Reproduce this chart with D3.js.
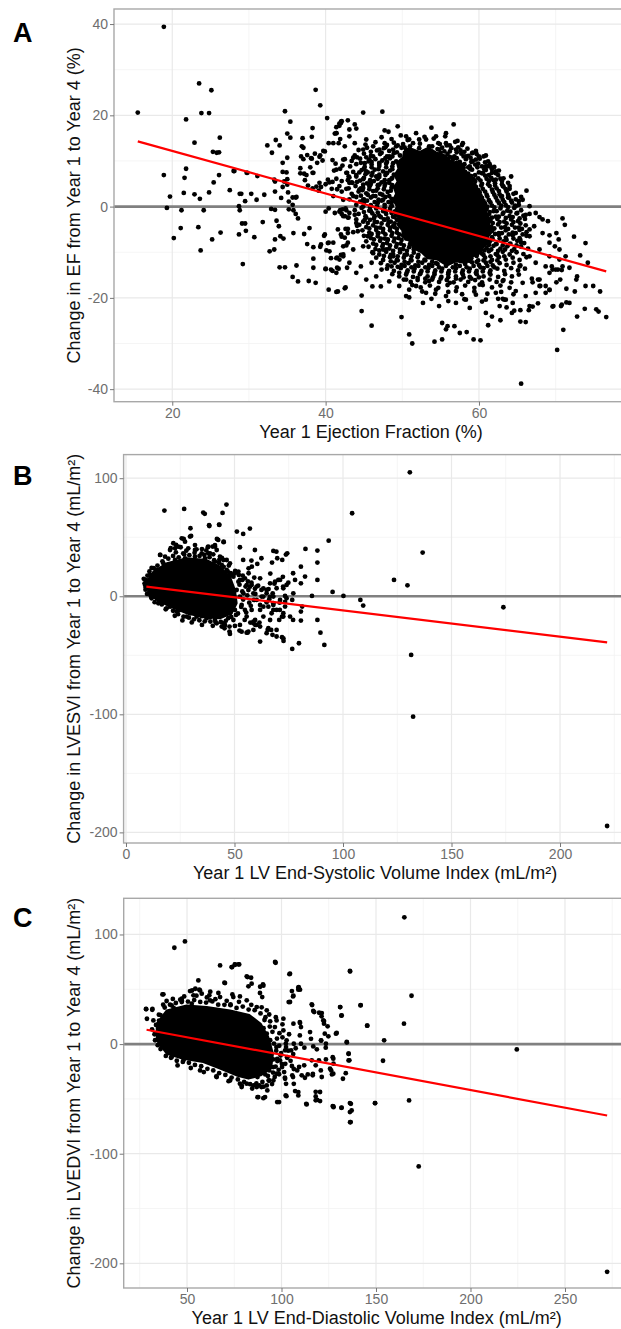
<!DOCTYPE html>
<html>
<head>
<meta charset="utf-8">
<script src="https://cdn.jsdelivr.net/npm/d3@7"></script>
<style>
  body { margin: 0; background: #fff; }
  svg { display: block; font-family: "Liberation Sans", Arial, sans-serif; }
</style>
</head>
<body>
<svg id="chart" width="621" height="1329"></svg>
<script>
// ---- panel A : ejection fraction ----
const efXTicks = [20, 40, 60];
const efYTicks = [-40, -20, 0, 20, 40];
const efFit = [[15.5, 14.3], [76.6, -14.2]];
// saturated centre of the cloud (outline of the solid black area)
const efCore = [[51,12.8],[52.3,12.0],[53.4,12.9],[54.5,11.8],[55.6,11.2],[56.3,10.0],[57.4,9.4],[58.1,8.0],[58.6,7.1],[59.2,5.8],[59.1,4.6],[59.8,3.6],[60.2,2.0],[60.6,1.0],[61.1,-0.4],[60.9,-1.6],[61.5,-2.8],[61.3,-4.1],[61.8,-5.3],[61.2,-6.6],[61.3,-7.9],[60.5,-9.0],[60.2,-10.2],[59.1,-11.0],[58.3,-12.4],[57.0,-12.0],[55.8,-12.9],[54.6,-11.6],[53.3,-11.3],[52.5,-10.0],[51.4,-9.1],[51.0,-7.6],[50.1,-6.7],[50.0,-5.2],[49.4,-4.0],[49.6,-2.6],[48.9,-1.4],[49.3,0.0],[48.8,1.5],[49.2,2.8],[48.9,4.2],[49.4,5.5],[49.0,6.9],[49.5,8.3],[49.3,9.6],[50.1,10.8],[50.2,12.0]];
const efPoints = [
  [15.5,20.6],[18.9,39.4],[23.5,27.0],[25.1,25.5],[23.8,20.5],[24.8,20.5],[21.8,19.1],[22.9,14.0],[26.2,15.1],[18.9,6.9],[21.8,8.3],[21.6,6.3],[25.3,12.0],[25.8,11.8],[26.1,11.9],[26.1,6.9],[25.4,5.3],[19.7,2.2],[21.5,3.0],[22.9,2.7],[23.6,1.7],[24.8,3.1],[19.3,-0.3],[21.2,-0.8],[24.1,-0.8],[27.5,3.6],[28.1,7.8],[28.8,2.8],[29.5,1.2],[29.8,7.4],[30.3,2.8],[31.1,6.7],[31.0,1.5],[32.0,2.6],[28.8,-0.8],[32.4,13.4],[33.0,11.8],[33.5,14.6],[34.0,13.4],[33.4,5.5],[33.4,3.3],[34.7,20.9],[35.4,18.6],[35.0,16.0],[35.4,15.1],[34.4,9.6],[35.0,10.7],[34.4,7.6],[34.9,7.5],[35.0,6.0],[35.0,4.8],[34.4,4.3],[34.2,1.9],[35.1,3.1],[36.1,2.0],[37.0,15.0],[36.9,13.2],[36.8,11.0],[37.1,10.4],[36.7,8.4],[37.2,7.2],[38.2,15.3],[38.3,17.2],[38.1,10.6],[38.0,8.6],[38.4,7.4],[38.7,25.6],[39.3,22.2],[40.2,19.4],[39.3,11.2],[39.6,10.1],[39.9,12.1],[40.4,13.9],[41.2,16.0],[41.4,17.4],[41.8,17.7],[42.0,18.6],
  [20.2,-6.9],[21.1,-4.7],[23.4,-4.5],[23.7,-9.6],[25.2,-7.2],[26.3,-5.7],[28.7,-6.1],[29.1,-3.7],[29.5,-3.7],[29.6,-5.3],[29.2,-12.6],[30.7,-6.7],[31.8,-3.4],[32.9,-0.5],[33.4,-0.7],[33.6,-3.1],[33.9,-4.3],[32.7,-9.8],[33.3,-9.4],[33.4,-7.2],[34.1,-6.5],[34.5,-7.0],[34.0,-13.3],[34.7,-13.3],[35.8,-5.8],[35.2,-0.6],[35.8,-0.8],[36.1,-1.6],[36.4,-2.6],[35.7,-15.4],[36.4,-16.4],[36.2,-12.9],[37.2,-6.0],[37.6,-8.2],[37.9,-4.7],[37.8,-16.3],[38.7,-16.7],[38.4,-11.4],[38.4,-13.4],[38.4,-8.9],[39.3,-8.8],[39.4,-8.3],[39.8,-6.4],[40.3,-8.0],[40.5,-9.8],[40.0,-13.7],[40.9,-14.1],[41.5,-13.4],[42.3,-10.9],[41.5,-11.2],[42.8,-13.4],[40.4,-18.2],[41.6,-18.6],[42.6,-17.7],[42.6,-4.9],[42.5,-6.8],[42.9,-7.9],[41.9,-0.8],[42.1,-1.6],[42.9,-2.4],[42.7,-0.8],[44.0,-3.6],
  [37.1,12.9],[37.6,11.3],[38.2,10.5],[38.6,11.6],[28.0,7.8],[29.7,7.4],[29.0,2.8],[33.3,5.9],[34.6,5.5],[35.7,2.0],[36.2,2.1],[35.2,1.1],[35.7,0.4],[28.7,0.1],[36.7,7.3],[37.5,6.9],[38.3,7.4],
  [39.9,-6.1],[40.4,-7.9],[40.1,-9.6],[40.0,-13.6],[40.7,-11.3],[41.4,-11.3],[42.3,-10.5],[41.7,-13.6],[42.7,-8.5],[41.8,18.2],[42.1,18.7],[41.4,16.1],[41.9,14.8],[41.7,13.9],
  [39.7,12.2],[39.2,10.9],[38.9,9.6],[40.9,10.2],[41.3,9.4],[41.1,7.9],[41.9,8.3],[42.2,9.0],[42.8,7.4],[42.5,10.4],[43.0,6.6],[44.1,10.8],[44.4,7.5],[40.3,5.9],[40.9,5.4],[41.4,6.1],[42.1,5.6],[42.9,5.8],[43.4,5.3],[44.1,5.4],[44.6,4.0],[39.1,3.5],[39.4,4.3],[40.0,4.9],[40.5,5.3],[40.8,3.9],[41.5,3.8],[42.1,3.3],[42.7,3.9],[37.3,5.8],[37.7,4.6],[38.3,4.0],[38.8,4.4],[39.2,5.2],
  [40.0,-1.1],[40.4,-0.4],[41.8,-1.1],[42.2,-0.6],[42.6,-0.4],[43.1,-1.4],[43.0,-2.4],[42.3,-2.1],[42.0,-6.1],[42.1,-6.6],[42.9,-4.9],[43.6,-5.6],[44.1,-4.2],
  [44.9,20.6],[47.4,20.8],[53.8,17.3],[56.7,18.0],[57.2,14.4],[47.7,16.7],[48.2,16.4],[49.4,17.6],[43.8,18.0],[44.0,17.1],[42.9,18.9],[43.1,16.9],[50.9,14.7],[52.2,14.7],[52.3,13.8],[54.9,13.7],[60.9,11.2],[61.1,8.8],[61.7,8.2],[66.2,3.5],[65.5,2.1],[65.2,1.2],[63.8,2.0],[63.0,2.3],
  [67.9,-2.3],[69.0,-3.2],[70.9,-2.6],[71.2,-4.0],[72.4,-6.6],[73.9,-8.0],[70.1,-5.8],[69.9,-8.7],[69.2,-6.3],[70.4,-7.2],
  [73.2,-10.7],[74.2,-12.3],[75.8,-18.6],[76.6,-24.2],[75.3,-22.5],[75.6,-23.0],[72.8,-24.1],[73.8,-22.4],[72.7,-16.0],[72.5,-18.6],[71.4,-18.0],[70.6,-16.0],[70.1,-16.6],[70.8,-13.9],[69.6,-13.8],[69.2,-18.3],[69.6,-21.9],[70.7,-21.8],[71.4,-21.0],[71.0,-27.0],[70.2,-31.4],[65.5,-38.8],
  [65.4,-22.7],[66.5,-22.7],[66.1,-25.3],[65.4,-25.2],[63.1,-20.2],[63.3,-20.4],[62.8,-24.9],[61.7,-24.1],[61.2,-26.0],[64.6,-22.8],[64.3,-23.3],[63.6,-22.1],[67.7,-21.2],[67.0,-21.9],[68.0,-17.4],[67.0,-16.6],
  [59.3,-29.1],[60.2,-29.3],[58.4,-27.5],[57.5,-27.7],[55.7,-26.9],[55.9,-26.2],[55.2,-25.5],[56.8,-26.2],[54.2,-29.6],[55.2,-29.1],[50.9,-28.0],[51.3,-30.0],[49.9,-24.2],[50.5,-19.6],[50.9,-19.9],
  [46.0,-26.1],[44.7,-22.9],[44.7,-19.5],[46.1,-17.5],[47.2,-17.5],[41.4,-18.7],[42.5,-17.9],[40.7,-13.8],[42.0,-10.6],
  [71.8,-21.1],[70.8,-21.5],[69.7,-21.8],[69.2,-18.2],[68.7,-18.9],[67.9,-17.4],[67.7,-16.0],[66.9,-15.8],[69.5,-13.1],[70.3,-13.8],[71.8,-13.4],[72.8,-15.3],[73.9,-17.4],[74.9,-17.4],
  [41.4,16.1],[42.0,18.3],[41.0,13.9],[42.5,13.2],[43.1,15.4],[43.8,13.9],[44.9,12.5],[45.3,14.7],[46.2,13.2],[47.0,12.5],[47.7,13.9],[42.3,10.3],[43.6,10.7],[44.6,9.6],[45.7,10.3],[47.0,9.6],[48.3,11.0],[49.2,13.2],[50.5,12.5],[51.4,13.9],[52.2,12.8],[41.4,8.1],[42.7,7.4],[44.0,6.6],[45.3,7.7],[46.6,6.6],[47.9,7.4],[41.8,4.5],[43.1,5.2],[44.4,3.7],[45.7,4.5],[47.0,4.8],[48.3,5.2],[41.0,2.3],[42.3,1.5],[43.6,2.3],[44.9,1.5],[46.2,2.3],[47.5,1.5],[48.6,0.1],
  [41.2,-1.4],[42.5,-2.1],[43.8,-1.8],[45.1,-2.9],[46.4,-2.1],[47.7,-2.9],[48.8,-4.3],[41.6,-5.0],[42.9,-5.8],[44.2,-5.4],[45.5,-6.5],[46.8,-5.8],[48.1,-7.2],[41.0,-7.9],[42.3,-8.7],[43.6,-9.4],[44.9,-8.7],[46.2,-10.2],[47.5,-9.4],[48.8,-10.9],[41.8,-11.6],[43.1,-12.3],[44.6,-13.1],[46.0,-12.3],[47.3,-13.8],[48.6,-13.1],[49.6,-14.5],[41.4,-14.5],[44.0,-14.5],[45.3,-16.0],[46.6,-15.3],[48.3,-16.4],[49.6,-17.4],[50.9,-18.2],[50.5,-16.0],
  [51.8,-17.4],[53.1,-18.9],[54.4,-18.2],[55.7,-19.6],[57.0,-18.5],[58.3,-20.4],[59.6,-19.3],[60.9,-20.4],[62.2,-18.9],[63.5,-20.4],[64.8,-18.5],[66.1,-19.6],[67.4,-18.9],[52.7,-21.1],[54.8,-21.8],[57.0,-21.1],[58.8,-22.2],[60.9,-23.3],[62.7,-21.8],[64.4,-21.1],[66.6,-21.8],[53.5,-16.3],[56.2,-16.7],[60.1,-17.1],[63.1,-16.3],[65.7,-16.7],[67.9,-16.0],[69.2,-14.5],[68.7,-17.4],
  [64.0,4.5],[64.8,3.0],[65.7,1.5],[66.6,0.1],[67.4,-1.4],[68.3,-2.8],[64.8,0.1],[66.1,-1.8],[67.2,-4.3],[68.3,-5.8],[69.2,-7.9],[66.6,-6.5],[67.9,-9.4],[69.2,-10.9],[70.5,-11.6],[67.4,-12.3],[68.7,-13.1],[70.0,-13.8],[70.9,-13.1],[71.3,-10.9],[70.5,-9.4],[64.2,6.6],[63.1,4.5],[62.2,5.9],[66.6,-5.0],[65.5,-7.9],[66.6,-10.9],[65.3,-13.1],
  [50.5,15.4],[51.8,16.1],[53.1,14.7],[54.4,15.4],[55.7,13.9],[57.0,12.5],[58.3,11.0],[59.6,10.3],[60.9,8.8],[62.2,7.7],[52.7,11.8],[54.8,12.5],[56.6,10.7],[58.8,8.8],[60.5,7.4],[50.9,10.3],[53.5,13.2],[55.7,16.1],[57.9,13.9],[59.2,11.8]
];
// densely packed points around the saturated centre
const efDense = [
  [47.3,15.2],[48.6,14.8],[49.8,15.6],[50.7,14.6],[52.9,15.3],[54.1,14.9],[55.6,15.4],
  [45.2,13.6],[46.5,14.1],[48.0,13.5],[48.9,14.0],[50.1,13.7],[51.0,13.2],[54.7,13.9],[55.8,13.4],[56.9,14.2],[57.8,13.5],
  [44.3,12.4],[45.4,12.9],[46.7,12.3],[47.6,12.8],[48.8,12.5],[49.9,12.9],[50.6,12.2],[54.6,12.6],[55.5,12.1],[56.4,12.8],[57.6,12.3],[58.5,12.7],[59.6,12.2],
  [43.8,11.2],[45.0,11.6],[45.9,11.1],[47.1,11.5],[48.0,11.0],[48.9,11.7],[49.7,11.2],[55.9,11.5],[56.8,11.0],[57.7,11.6],[58.6,11.1],[59.7,11.5],[60.6,11.0],
  [43.4,10.0],[44.5,10.5],[45.6,9.9],[46.5,10.4],[47.4,10.1],[48.4,10.6],[49.2,9.9],[56.6,10.3],[57.5,9.8],[58.3,10.4],[59.2,10.0],[60.1,10.5],[61.2,9.9],
  [43.2,8.8],[44.0,9.3],[45.1,8.7],[46.0,9.2],[47.0,8.9],[47.9,9.4],[48.7,8.8],[57.7,9.1],[58.6,8.6],[59.5,9.2],[60.4,8.8],[61.4,9.3],[62.0,8.7],
  [43.6,7.6],[44.7,8.0],[45.5,7.5],[46.4,8.1],[47.5,7.7],[48.4,7.9],[58.2,7.6],[59.1,8.1],[60.0,7.5],[60.9,8.0],[61.7,7.4],[62.6,7.9],
  [43.1,6.4],[44.0,6.9],[45.0,6.3],[46.0,6.8],[47.0,6.5],[47.8,6.9],[48.7,6.3],[59.0,6.7],[59.9,6.2],[60.8,6.8],[61.6,6.3],[62.5,6.9],[63.2,6.2],
  [43.5,5.2],[44.5,5.7],[45.4,5.1],[46.3,5.6],[47.3,5.3],[48.3,5.8],[59.5,5.5],[60.4,5.0],[61.3,5.6],[62.1,5.1],[63.0,5.6],[63.8,5.2],
  [43.0,4.0],[43.9,4.5],[44.9,4.1],[45.8,4.6],[46.8,4.0],[47.7,4.5],[48.6,4.2],[59.6,4.3],[60.5,3.9],[61.4,4.5],[62.3,4.0],[63.2,4.4],[64.0,3.9],
  [43.4,2.8],[44.3,3.3],[45.3,2.9],[46.2,3.4],[47.1,2.8],[48.1,3.2],[60.1,3.1],[61.0,2.6],[61.8,3.2],[62.7,2.7],[63.6,3.3],[64.5,2.8],
  [43.1,1.6],[44.0,2.1],[45.0,1.6],[45.9,2.0],[46.9,1.5],[47.8,2.1],[48.6,1.7],[60.4,1.9],[61.3,1.4],[62.2,2.0],[63.1,1.5],[63.9,2.0],[64.8,1.6],
  [44.0,0.4],[45.0,0.9],[45.9,0.3],[46.8,0.8],[47.7,0.4],[48.6,0.9],[60.8,0.7],[61.7,0.2],[62.6,0.8],[63.5,0.3],[64.3,0.9],[65.2,0.4],
  [43.8,-0.8],[44.7,-0.3],[45.7,-0.9],[46.6,-0.4],[47.5,-1.0],[48.4,-0.5],[49.0,-1.1],[61.0,-0.5],[61.9,-1.0],[62.8,-0.4],[63.7,-0.9],[64.6,-0.3],[65.5,-0.8],
  [44.3,-1.6],[45.2,-2.1],[46.1,-1.5],[47.0,-2.0],[47.9,-1.6],[48.8,-2.2],[61.3,-1.7],[62.2,-2.2],[63.1,-1.6],[64.0,-2.1],[64.9,-1.5],[65.8,-2.0],[66.6,-1.6],
  [44.0,-2.8],[44.9,-3.3],[45.8,-2.9],[46.7,-3.4],[47.6,-2.8],[48.5,-3.3],[49.3,-2.9],[61.5,-3.1],[62.4,-2.7],[63.3,-3.3],[64.2,-2.8],[65.1,-3.2],[66.0,-2.7],
  [44.4,-4.0],[45.3,-4.5],[46.2,-4.1],[47.1,-4.6],[48.1,-4.0],[49.0,-4.5],[61.6,-4.4],[62.5,-3.9],[63.4,-4.5],[64.3,-4.0],[65.2,-4.6],[66.1,-4.1],
  [44.8,-5.2],[45.7,-5.7],[46.6,-5.1],[47.5,-5.6],[48.4,-5.2],[49.3,-5.7],[61.7,-5.3],[62.6,-5.8],[63.5,-5.2],[64.4,-5.7],[65.3,-5.1],[66.2,-5.6],
  [45.0,-6.4],[45.9,-6.9],[46.8,-6.5],[47.7,-7.0],[48.6,-6.4],[49.5,-6.9],[50.1,-6.3],[61.7,-6.7],[62.6,-6.2],[63.5,-6.8],[64.4,-6.3],[65.3,-6.9],[66.2,-6.4],
  [45.3,-7.6],[46.2,-8.1],[47.1,-7.5],[48.0,-8.0],[48.9,-7.6],[49.8,-8.1],[61.4,-7.7],[62.3,-8.2],[63.2,-7.6],[64.1,-8.1],[65.0,-7.5],[65.9,-8.0],
  [45.6,-8.8],[46.5,-9.3],[47.4,-8.7],[48.3,-9.2],[49.2,-8.8],[50.1,-9.3],[50.9,-8.9],[61.0,-9.1],[61.9,-8.6],[62.8,-9.2],[63.7,-8.7],[64.6,-9.3],[65.5,-8.8],[66.4,-9.2],
  [46.1,-10.0],[47.0,-10.5],[47.9,-9.9],[48.8,-10.4],[49.7,-10.0],[50.6,-10.5],[51.5,-10.1],[60.4,-10.3],[61.3,-9.8],[62.2,-10.4],[63.1,-9.9],[64.0,-10.5],[64.9,-10.0],[65.8,-10.4],
  [46.6,-11.2],[47.5,-11.7],[48.4,-11.1],[49.3,-11.6],[50.2,-11.2],[51.1,-11.7],[52.0,-11.1],[52.9,-11.6],[59.0,-11.3],[59.9,-11.8],[60.8,-11.2],[61.7,-11.7],[62.6,-11.1],[63.5,-11.6],[64.4,-11.2],[65.3,-11.7],[66.2,-11.1],
  [47.2,-12.4],[48.1,-12.9],[49.0,-12.3],[49.9,-12.8],[50.8,-12.4],[51.7,-12.9],[52.6,-12.3],[53.5,-12.8],[54.4,-12.4],[58.2,-12.6],[59.1,-12.2],[60.0,-12.8],[60.9,-12.3],[61.8,-12.9],[62.7,-12.4],[63.6,-12.8],[64.5,-12.3],[65.4,-12.9],
  [48.0,-13.6],[48.9,-14.1],[49.8,-13.5],[50.7,-14.0],[51.6,-13.6],[52.5,-14.1],[53.4,-13.5],[54.3,-14.0],[55.2,-13.6],[56.1,-14.1],[57.0,-13.5],[57.9,-14.0],[58.8,-13.6],[59.7,-14.1],[60.6,-13.5],[61.5,-14.0],[62.4,-13.6],[63.3,-14.1],[64.2,-13.5],[65.1,-14.0],[66.0,-13.6],
  [48.7,-14.8],[49.6,-15.3],[50.5,-14.9],[51.4,-15.4],[52.3,-14.8],[53.3,-15.3],[54.2,-14.9],[55.1,-15.4],[56.0,-14.8],[57.0,-15.3],[57.9,-14.9],[58.8,-15.4],[59.7,-14.8],[60.6,-15.3],[61.5,-14.9],[62.5,-15.4],[63.4,-14.8],[64.3,-15.3],[65.2,-14.9],
  [50.2,-16.0],[51.1,-16.5],[52.0,-16.1],[53.0,-16.6],[53.9,-16.0],[54.8,-16.5],[55.8,-16.1],[56.7,-16.6],[57.6,-16.0],[58.6,-16.5],[59.5,-16.1],[60.4,-16.6],[61.4,-16.0],[62.3,-16.5],[63.2,-16.1],[64.2,-16.6],
  [51.3,-17.2],[52.4,-17.7],[53.6,-17.3],[54.7,-17.8],[55.9,-17.2],[57.1,-17.7],[58.2,-17.3],[59.4,-17.8],[60.5,-17.2],[61.7,-17.7],[62.8,-17.3],[64.0,-17.8],
  [52.6,-18.6],[54.3,-19.1],[56.0,-18.7],[57.8,-19.2],[59.4,-18.6],[61.1,-19.1],[62.9,-18.7],[64.5,-19.2],
  [53.8,-20.2],[56.0,-20.7],[58.1,-20.3],[60.4,-20.8],[62.5,-20.2]
];
// second, offset layer right next to the saturated centre
const efDenseInner = [
  [47.8,13.0],[49.4,13.4],[50.3,13.0],[53.9,13.2],[55.2,12.9],[56.2,13.4],[57.3,13.0],
  [45.9,12.0],[47.3,11.8],[48.3,12.2],[49.3,11.9],[55.0,11.8],[56.2,12.1],[57.1,11.9],[58.1,12.0],[59.1,11.7],
  [45.3,10.8],[46.2,11.0],[47.8,10.6],[48.7,11.0],[56.2,10.9],[57.1,10.6],[58.0,11.0],[58.9,10.7],[60.0,11.0],
  [45.1,9.5],[46.0,9.8],[47.0,9.4],[48.0,9.8],[48.8,9.5],[57.1,9.6],[58.1,9.3],[59.0,9.8],[59.9,9.4],[60.8,9.7],
  [45.0,8.3],[46.0,8.6],[46.9,8.2],[47.9,8.6],[48.7,8.2],[58.0,8.5],[58.9,8.2],[59.8,8.6],[60.7,8.2],[61.6,8.6],
  [45.2,7.1],[46.1,7.4],[47.0,7.0],[48.0,7.3],[48.9,7.0],[58.6,7.2],[59.5,6.9],[60.4,7.3],[61.3,6.9],[62.2,7.3],
  [44.9,6.0],[45.8,5.8],[46.8,6.1],[47.7,5.8],[48.6,6.1],[59.3,6.0],[60.2,5.7],[61.0,6.1],[61.9,5.8],[62.8,6.1],
  [44.9,4.8],[45.9,5.0],[46.8,4.7],[47.8,5.0],[48.7,4.7],[59.4,4.8],[60.3,4.6],[61.2,4.9],[62.1,4.6],[63.0,4.9],
  [44.8,3.6],[45.7,3.8],[46.6,3.5],[47.6,3.8],[48.5,3.5],[59.9,3.6],[60.8,3.3],[61.7,3.7],[62.6,3.4],[63.5,3.8],
  [44.6,2.4],[45.5,2.6],[46.5,2.3],[47.4,2.6],[48.3,2.3],[60.2,2.4],[61.1,2.2],[62.0,2.6],[62.9,2.2],[63.8,2.6],
  [44.5,1.1],[45.4,1.3],[46.4,1.0],[47.3,1.3],[48.2,1.0],[60.6,1.2],[61.5,0.9],[62.4,1.3],[63.3,1.0],[64.2,1.3],
  [44.9,0.0],[45.8,-0.2],[46.7,0.1],[47.7,-0.2],[48.6,0.2],[61.1,0.0],[62.0,-0.2],[62.9,0.2],[63.8,-0.1],[64.7,0.2],
  [45.0,-1.2],[45.9,-1.0],[46.8,-1.3],[47.8,-1.1],[48.6,-1.4],[61.4,-1.2],[62.3,-1.0],[63.2,-1.3],[64.1,-1.1],[65.0,-1.4],
  [45.3,-2.4],[46.3,-2.6],[47.2,-2.3],[48.1,-2.6],[49.0,-2.3],[61.7,-2.4],[62.6,-2.2],[63.5,-2.5],[64.4,-2.3],[65.3,-2.6],
  [45.5,-3.6],[46.4,-3.4],[47.3,-3.7],[48.2,-3.4],[49.0,-3.7],[61.8,-3.6],[62.7,-3.4],[63.6,-3.7],[64.5,-3.4],[65.4,-3.7],
  [45.7,-4.8],[46.6,-4.6],[47.5,-4.9],[48.4,-4.6],[49.3,-4.9],[62.0,-4.8],[62.9,-4.6],[63.8,-4.9],[64.7,-4.6],[65.6,-4.9],
  [46.0,-6.0],[46.9,-5.8],[47.8,-6.1],[48.7,-5.8],[49.6,-6.1],[62.1,-6.0],[63.0,-5.8],[63.9,-6.1],[64.8,-5.8],[65.7,-6.1],
  [46.3,-7.2],[47.2,-7.0],[48.1,-7.3],[49.0,-7.0],[49.9,-7.3],[50.5,-7.0],[61.8,-7.2],[62.7,-7.0],[63.6,-7.3],[64.5,-7.0],[65.4,-7.3],
  [46.6,-8.4],[47.5,-8.2],[48.4,-8.5],[49.3,-8.2],[50.2,-8.5],[51.0,-8.2],[61.3,-8.4],[62.2,-8.2],[63.1,-8.5],[64.0,-8.2],[64.9,-8.5],
  [47.0,-9.6],[47.9,-9.4],[48.8,-9.7],[49.7,-9.4],[50.6,-9.7],[51.5,-9.4],[60.7,-9.6],[61.6,-9.4],[62.5,-9.7],[63.4,-9.4],[64.3,-9.7],
  [47.6,-10.8],[48.5,-10.6],[49.4,-10.9],[50.3,-10.6],[51.2,-10.9],[52.1,-10.6],[59.7,-10.8],[60.6,-10.6],[61.5,-10.9],[62.4,-10.6],[63.3,-10.9],
  [48.5,-12.0],[49.4,-11.8],[50.3,-12.1],[51.2,-11.8],[52.1,-12.1],[53.0,-11.8],[53.9,-12.1],[54.6,-12.6],[57.0,-12.7],[58.8,-11.9],[59.7,-12.1],[60.6,-11.8],[61.5,-12.1],[62.4,-11.8],
  [49.4,-13.2],[50.3,-13.0],[51.2,-13.3],[52.1,-13.0],[53.0,-13.3],[53.9,-13.0],[54.8,-13.3],[55.7,-13.0],[56.6,-13.3],[57.5,-13.0],[58.4,-13.3],[59.3,-13.0],[60.2,-13.3],[61.1,-13.0],[62.0,-13.3],
  [50.6,-14.4],[51.5,-14.2],[52.4,-14.5],[53.3,-14.2],[54.2,-14.5],[55.1,-14.2],[56.0,-14.5],[56.9,-14.2],[57.8,-14.5],[58.7,-14.2],[59.6,-14.5],[60.5,-14.2],[61.4,-14.5],
  [52.0,-15.6],[53.0,-15.8],[54.0,-15.5],[55.0,-15.8],[56.0,-15.5],[57.0,-15.8],[58.0,-15.5],[59.0,-15.8],[60.0,-15.5]
];

// ---- panel B : end-systolic volume index ----
const esviXTicks = [0, 50, 100, 150, 200];
const esviYTicks = [-200, -100, 0, 100];
const esviFit = [[9.4, 8.1], [221.7, -39.0]];
const esviCore = [[9.5,12.4],[12.6,20.8],[18.8,27.9],[28.0,32.2],[37.2,30.7],[43.3,25.1],[47.9,16.6],[50.2,5.3],[51.0,-5.9],[48.7,-14.4],[43.3,-18.6],[35.6,-17.8],[28.0,-14.4],[20.3,-8.8],[14.1,-3.1],[10.3,3.9]];
const esviPoints = [
  [130.8,105],[104.2,70.3],[136.7,37.0],[93.4,47.1],[123.5,13.8],[129.7,9.3],[95.2,3.7],[100.2,0.3],[108,-3.1],[109.3,-7.9],[173.9,-9.3],[131.4,-49.7],[132.3,-102],[221.7,-194.6],
  [17.7,72.6],[26.8,74],[46.3,77.7],[35.6,70.9],[36.3,69.8],[44.5,70.6],[29.7,57.6],[26.6,48.6],[29.5,50.6],[38.3,60.2],[42.9,60.7],[51.1,54.8],[54.0,52.8],[57.1,57.3],[20.6,40.7],[23.1,43.5],[25.2,41.5],[15.8,35],[37.7,41.5],[39.9,42.1],[41.9,48.6],[45.0,45.8],[41.0,42.1],
  [52.5,41.5],[59.4,39.2],[62.4,32.2],[57.8,30.2],[54.0,30.8],[60.5,27.4],[58.0,25.1],[56.5,23.7],
  [67.9,38.4],[69.3,37.8],[73.7,35.3],[74.3,36.4],[67.3,28.5],[69.7,32.2],[72.0,30.8],
  [82.7,40.1],[88.2,38.7],[88.2,28.5],[88.2,13.8],[80.6,25.1],[77.0,19.5],[77.9,13.8],[82.5,16.7],[80.6,11.0],[85.7,0.3],
  [66.5,19.2],[68.4,10.7],[72.3,16.5],[70.2,13.8],[74.8,11.5],[65.7,6.1],[67.6,2.5],[69.4,6.8],[73.3,0.3],[72.4,8.2],
  [48.3,19.5],[52.0,18.1],[56.5,19.5],[59.1,15.8],[53.6,13.8],[57.8,11.6],[55.1,8.2],[60.9,9.0],[62.4,5.4],[59.6,2.0],[63.3,-0.3],[66.0,-2.5],[67.9,-7.3],[64.8,-5.1],[70.8,-5.4],[73.3,-4.8],[67.9,-11.6],[67.1,-14.4],[71.9,-17.2],[70.6,-20.0],[77.0,-20.0],[80.6,-20.6],[88.2,-20.0],[80.6,-13.0],[81.2,-8.7],[76.6,-3.1],[73.3,-8.7],
  [47.7,-25.7],[45.4,-27.1],[47.7,-29.9],[52.3,-29.1],[56.0,-30.8],[57.3,-22.3],[58.7,-21.5],[59.6,-24.3],[61.5,-22.3],[61.8,-38.4],[65.3,-28.5],[66.9,-28.5],[67.5,-32.7],[71.9,-34.7],[72.6,-37.8],[76.6,-44.6],[79.7,-39.8],[89.6,-30.8],[91.4,-41.2],[54.7,-20.0],[44.1,-25.7],
  [21.8,44.9],[24.1,42.0],[15.7,35.0],[20.3,39.2],[25.7,49.1],[30.0,51.1],[27.2,46.2],[34.9,36.4],[37.9,42.0],[38.7,36.4],[41.0,43.4],[42.5,47.7],[43.0,30.7],[46.4,30.7],[38.4,59.5],[43.0,60.4],[45.0,46.2],[31.8,43.4],[35,40],[17.2,27.9],[11.8,24.0],[12.6,16.6],[9.5,12.4],[9.1,7.6],[12.1,3.9],[15.7,-3.7],[20.3,-8.8],[24.9,-11.6],[29.5,-14.4],[34.9,-16.7],[38.7,-17.8],[43.3,-16.7],[47.1,-18.6],
  [41.8,-22.9],[45.6,-24.3],[47.9,-31.9],[50.2,-25.1],[53.3,-30.0],[55.6,-30.8],[58.7,-22.9],[60.2,-24.3],[64.8,-31.3],[69.4,-34.1],[72.5,-35.6],[72.5,-17.2],[70.9,-11.6],[67.9,-5.9],[66.4,-0.3],[64.8,2.5],[63.3,-8.8],[61.8,-11.6],[60.2,-3.1],[58.7,2.5],[57.1,8.1],[55.6,9.5],[52.5,13.8],[50.2,19.5],
  [49.5,16.6],[51.8,12.4],[51.0,5.3],[52.5,-0.3],[53.3,-7.4],[50.2,-11.6],[47.9,-14.4],[54.8,-11.6],[55.6,-17.2],[49.5,-20.1],[44.9,-22.9],[41.0,-20.1],[37.2,-18.7],[32.6,-17.2],[28.0,-17.2],[23.4,-13.0],[18.7,-10.2],[14.9,-5.9],[11.8,-1.7],[10.3,2.5],[8.8,9.6],[9.2,13.8],[11.1,18.0],[14.1,22.3],[17.9,26.5],[22.6,30.7],[27.2,32.1],[31.8,33.6],[36.4,32.1],[41.0,29.3],[44.1,26.5],[46.4,22.3],[47.9,18.0],[54.1,2.5],[56.4,5.3],[57.9,9.6],[54.8,15.2],[51.8,20.9],[47.9,27.9],[44.9,30.7],[43.3,33.6],[41.8,39.2],[37.9,36.4],[35.6,29.3],[31.8,39.2],[28.7,40.6],[26.4,36.4],[22.6,40.6],
  [61.8,15.2],[60.2,8.2],[63.3,6.7],[62.5,-0.3],[64.8,5.3],[66.4,11.0],[68.7,12.4],[71.0,13.8],[72.5,6.7],[74.0,9.6],[67.9,-0.3],[71.0,-3.1],[74.0,-1.7],[77.1,2.5],[65.6,-8.8],[69.4,-11.6],[72.5,-14.4],[75.6,-17.2],[61.8,-7.4],[57.9,-11.6],[59.5,-20.1],[63.3,-17.2],[66.4,-20.1],[61.8,-25.7],[65.6,-27.1],[69.4,-28.5],[58.7,-28.5],[56.4,-29.9],[52.5,-24.3]
];
const esviDense = [
  [14.5,26.0],[16.8,29.6],[19.5,31.8],[21.7,34.2],[24.3,33.0],[26.8,35.5],[29.2,34.8],[31.6,36.8],[33.9,34.2],[36.1,35.0],[38.5,33.1],[40.6,30.5],[42.8,28.3],[45.0,24.9],[46.9,21.0],[48.8,17.8],
  [18.0,33.5],[23.0,37.2],[27.8,38.6],[32.5,39.8],[37.0,38.8],[40.2,35.5],[44.2,32.5],[47.4,26.0],[50.3,21.5],
  [52.3,9.8],[53.6,4.1],[54.0,-2.8],[53.1,-9.0],[51.6,-14.6],[55.9,0.8],[56.8,-5.4],[57.5,-8.1],[55.4,-13.8],[58.9,-3.1],[59.4,6.3],[56.2,12.5],[53.8,17.5],
  [13.2,-5.0],[16.5,-6.9],[18.3,-11.0],[21.7,-12.3],[24.0,-15.2],[26.5,-17.3],[29.0,-18.1],[31.3,-19.5],[33.8,-20.3],[36.3,-21.2],[38.9,-21.4],[41.3,-22.0],[43.7,-21.8],[46.0,-20.8],[48.5,-17.5],[50.7,-15.8],[45.2,-25.5],[40.0,-25.0],[35.0,-24.3],[30.3,-22.2],[26.0,-20.5],[22.5,-16.5],
  [8.6,11.0],[9.0,5.6],[9.7,2.0],[11.5,0.1],[8.2,14.8],[9.9,17.5],[10.8,21.0],[12.8,23.8]
];

// ---- panel C : end-diastolic volume index ----
const edviXTicks = [50, 100, 150, 200, 250];
const edviYTicks = [-200, -100, 0, 100];
const edviFit = [[28.6, 13.1], [272.3, -65.1]];
const edviCore = [[34.0,18.6],[39.3,30.7],[49.8,35.3],[60.4,33.8],[72.8,30.7],[83,26.5],[89,18.6],[93,6.4],[95.5,-8.8],[94.5,-22],[89,-28.5],[82.5,-31.5],[76.2,-28.6],[67.5,-22.4],[58.6,-16.4],[48.0,-13.3],[39.3,-8.8],[34.0,3.4]];
const edviPoints = [
  [165.0,115.6],[48.9,93.7],[43.3,87.9],[224.5,-4.9],[172.6,-111.6],[272.3,-207.7],[136.3,66.3],[168.8,44.1],[164.8,18.6],[154.3,3.4],[153.7,-15.2],[149.5,-53.9],[167.5,-51.4],[136.7,-54.5],[137.1,-60.6],[136.3,-71.3],[141.8,35.3],[145.3,16.8],[131.1,33.8],[131.7,25.9],
  [134.6,1.5],[135.5,-8.8],[135.5,-14.9],[134.0,-26.5],[132.5,-31.6],[126.7,-27.7],[126.3,-24.0],[127.5,-17.9],[131.7,-58.1],[127.5,-57.5],
  [121.0,3.1],[122.9,9.5],[124.4,16.2],[128.8,9.5],[116.2,35.6],[117.3,29.2],[119.9,28.6],[121.2,25.3],[122.5,21.0],[122.5,18.6],
  [96.9,74.2],[104.2,63.8],[106.1,43.5],[103.8,38.3],[105.5,48.4],[108.9,49.6],[109.1,52.0],[109.7,20.1],[109.7,7.9],[110.3,15.5],
  [88.7,52.3],[90.2,54.5],[83.9,60.5],[82.0,61.1],[77.6,72.7],[75.3,72.7],[73.8,70.2],[67.5,71.8],[69.8,56.0],[56.0,58.1],
  [89.8,42.9],[78.0,43.5],[74.0,45.3],[73.0,36.2],[62.3,47.8],[56.5,49.6],
  [52.7,48.9],[54.4,50.5],[37.0,45.3],[37.4,35.9],[42.9,33.1],[28.4,31.9],[31.6,31.3],[28.8,23.1],[35.1,26.8],[46.4,40.5],
  [87.3,-48.4],[90.4,-49.3],[97.7,-52.9],[102.6,-47.5],[107.2,-42.9],[108.9,-43.8],[113.1,-54.5],[118.1,-43.5],[118.1,-47.8],[118.9,-50.8],[120.4,-52.0],[127.1,-56.5],
  [106.1,-30.1],[106.5,-36.2],[112.4,-30.7],[113.9,-27.7],[118.1,-19.4],[120.8,-24.0],[116.6,-27.1],[112.0,-19.4],[109.3,-20.9],[106.5,-22.7],[100.3,-20.9],[102.4,-36.2],[108.3,-24.0],[103.0,-11.9],[105.1,-5.8],[102.4,-2.7],[106.5,0.3],[110.3,0.3],[115.6,4.8],[118.7,-4.8],[123.5,-14.0],[127.1,-11.9],[123.5,0.3],
  [97.3,-2.7],[99.8,-8.2],[97.7,-13.4],[95.6,-21.0],[93.5,-24.0],[91.4,-27.7],[93.5,-33.2],[92.5,-42.3],[89.4,-39.2],[88.3,-37.7],[87.3,-30.1],
  [28.3,32.0],[31.7,32.0],[37.5,45.4],[39.2,39.3],[41.9,35.3],[47.2,38.4],[52.5,36.9],[51.6,48.4],[57.8,46.0],[61.8,44.5],[66.6,46.6],[70.1,55.7],[73.6,70.3],[75.4,72.4],[77.2,72.8],[81.6,61.8],[84.2,55.1],[82.5,52.7],[90.4,53.3],[88.6,46.6],[96.6,74.9],[104.5,64.2],[108.9,51.5],[109.8,49.6],[106.3,44.2],[104.5,38.4],[101.0,23.2],[106.3,18.6],[109.8,19.2],[116.0,36.3],[116.8,30.2],[121.3,28.3],[122.1,21.6],[131.0,33.8],[131.8,26.2],[136.2,66.7],[141.9,35.6],[145.4,16.8],[129.2,10.1],[124.8,7.1],[120.9,3.4],[115.1,11.0],[112.1,-3.3],[116.8,-2.1],[123.4,-3.3],[127.4,-13.3],[135.5,-8.8],[135.9,-14.8],[134.5,1.9],[119.8,-14.8],[116.0,-14.8],[125.7,-22.4],[127.4,-27.0],[121.3,-30.0],[116.5,-28.5],[110.7,-28.5],[105.7,-28.5],[101.9,-31.6],[120.4,-43.7],[118.1,-51.3],[127.4,-56.8],[131.8,-58.0],[136.2,-53.8],[136.2,-62.0],[136.6,-71.1],[149.5,-53.8],[113.3,-55.0],[108.9,-46.8],[102.2,-46.8],[98.7,-52.9],[91.3,-48.3],[87.7,-48.3],[78.9,-39.2],[81.6,-36.1],[85.1,-37.7],
  [32.2,21.6],[34.8,14.1],[35.7,6.4],[36.6,-2.7],[41.9,-11.8],[48.1,-14.8],[56.9,-24.0],[65.7,-30.0],[72.8,-33.1],[78.0,-36.1],[86.9,-39.2],[92.2,-37.7],[95.7,-33.1],[97.4,-27.0],[99.2,-14.8],[101.9,-5.7],[102.7,3.4],[101.0,12.5],[97.4,21.6],[92.2,30.8],[86.9,33.8],[81.6,39.9],[74.5,42.9],[67.5,42.9],[62.2,39.9],[56.9,49.0],[53.4,44.5],[47.2,41.4]
];
const edviDense = [
  [36.0,26.5],[38.2,33.4],[41.0,36.0],[44.1,37.5],[47.3,39.3],[50.5,38.8],[53.8,40.2],[57.0,38.5],[60.1,37.9],[63.4,38.9],[66.5,36.0],[69.8,35.8],[73.0,35.5],[76.2,33.0],[79.5,34.2],[82.6,31.5],[85.8,30.9],[88.9,28.0],[91.5,24.5],[94.0,20.8],[96.5,15.5],[98.9,10.0],
  [42.5,41.2],[48.5,43.5],[55.0,44.2],[60.5,42.6],[65.0,41.0],[71.0,39.5],[77.5,38.6],[84.0,35.8],[89.5,33.5],[93.5,27.0],[97.0,24.5],[100.5,18.0],
  [100.5,6.2],[102.3,0.5],[103.5,-6.0],[103.0,-12.5],[102.0,-18.0],[101.4,-25.5],[104.8,-15.3],[106.2,-9.1],[105.5,-20.0],[107.5,-3.8],[104.0,9.0],[101.8,-30.5],
  [36.0,-4.5],[38.8,-10.8],[41.5,-12.5],[44.6,-15.2],[47.8,-16.3],[51.0,-17.0],[54.2,-19.0],[57.5,-20.2],[60.8,-22.6],[63.9,-24.0],[67.0,-26.5],[70.3,-28.1],[73.6,-30.5],[76.9,-32.2],[80.2,-34.5],[83.4,-36.6],[86.7,-35.8],[89.9,-34.6],[93.2,-33.2],[96.4,-30.0],[98.7,-27.5],
  [45.0,-19.5],[52.0,-21.8],[58.9,-25.5],[65.5,-29.5],[72.0,-33.8],[79.0,-38.0],[84.5,-40.5],[90.5,-38.8],[95.0,-36.5],
  [31.5,13.5],[32.8,9.0],[33.1,3.5],[34.5,-1.0],[33.6,17.5],[35.2,21.5],
  [91.0,22.0],[93.8,16.0],[95.2,11.2],[97.6,5.0],[96.0,0.5],[98.8,-1.5],[97.2,-6.0],[99.5,-10.5],[97.8,-15.5],[100.2,-18.0],[96.9,-20.5],[98.5,-23.5],[95.5,-26.0],[92.8,-29.0],[94.0,3.5],[92.2,9.5],[95.6,-14.0],[90.5,14.5]
];

// layout of the three stacked panels
const panels = [
  { letter: "A", letterY: 42, pts: efPoints.concat(efDense, efDenseInner), core: efCore, fit: efFit,
    xDomain: [12.4, 79.7], yDomain: [-42.75, 43.3], left: 114, right: 630, top: 9, bottom: 401.7,
    xTicks: efXTicks, yTicks: efYTicks,
    xTitle: "Year 1 Ejection Fraction (%)", yTitle: "Change in EF from Year 1 to Year 4 (%)" },
  { letter: "B", letterY: 485, pts: esviPoints.concat(esviDense), core: esviCore, fit: esviFit,
    xDomain: [-1.1, 231.6], yDomain: [-209, 120], left: 123.6, right: 628.6, top: 454.6, bottom: 843,
    xTicks: esviXTicks, yTicks: esviYTicks,
    xTitle: "Year 1 LV End-Systolic Volume Index (mL/m²)", yTitle: "Change in LVESVI from Year 1 to Year 4 (mL/m²)" },
  { letter: "C", letterY: 927, pts: edviPoints.concat(edviDense), core: edviCore, fit: edviFit,
    xDomain: [16.5, 285.3], yDomain: [-222.5, 133], left: 123.7, right: 631.7, top: 898.3, bottom: 1288,
    xTicks: edviXTicks, yTicks: edviYTicks,
    xTitle: "Year 1 LV End-Diastolic Volume Index (mL/m²)", yTitle: "Change in LVEDVI from Year 1 to Year 4 (mL/m²)" }
];

const svg = d3.select("#chart");

function minorOf(ticks, domain) {
  const step = ticks[1] - ticks[0];
  const out = [];
  for (let v = ticks[0] - step / 2; v <= ticks[ticks.length - 1] + step; v += step) {
    if (v >= domain[0] && v <= domain[1]) out.push(v);
  }
  return out;
}

function drawPanel(p, i) {
  const x = d3.scaleLinear().domain(p.xDomain).range([p.left, p.right]);
  const y = d3.scaleLinear().domain(p.yDomain).range([p.bottom, p.top]);
  const g = svg.append("g");

  svg.append("clipPath").attr("id", "clip" + i)
    .append("rect")
    .attr("x", p.left).attr("y", p.top)
    .attr("width", p.right - p.left).attr("height", p.bottom - p.top);

  // grid
  const grid = g.append("g");
  grid.selectAll(".mx").data(minorOf(p.xTicks, p.xDomain)).join("line")
    .attr("x1", d => x(d)).attr("x2", d => x(d)).attr("y1", p.top).attr("y2", p.bottom)
    .attr("stroke", "#f2f2f2").attr("stroke-width", 0.8);
  grid.selectAll(".my").data(minorOf(p.yTicks, p.yDomain)).join("line")
    .attr("y1", d => y(d)).attr("y2", d => y(d)).attr("x1", p.left).attr("x2", p.right)
    .attr("stroke", "#f2f2f2").attr("stroke-width", 0.8);
  grid.selectAll(".gx").data(p.xTicks).join("line")
    .attr("x1", d => x(d)).attr("x2", d => x(d)).attr("y1", p.top).attr("y2", p.bottom)
    .attr("stroke", "#e9e9e9").attr("stroke-width", 1.2);
  grid.selectAll(".gy").data(p.yTicks).join("line")
    .attr("y1", d => y(d)).attr("y2", d => y(d)).attr("x1", p.left).attr("x2", p.right)
    .attr("stroke", "#e9e9e9").attr("stroke-width", 1.2);

  const plot = g.append("g").attr("clip-path", "url(#clip" + i + ")");

  // zero reference line
  plot.append("line")
    .attr("x1", p.left).attr("x2", p.right).attr("y1", y(0)).attr("y2", y(0))
    .attr("stroke", "#808080").attr("stroke-width", 2.6);

  // overplotted centre of the cloud
  plot.append("path")
    .datum(p.core)
    .attr("d", d3.line().x(d => x(d[0])).y(d => y(d[1])).curve(d3.curveLinearClosed))
    .attr("fill", "#000").attr("stroke", "#000").attr("stroke-width", 2).attr("stroke-linejoin", "round");

  plot.append("g").selectAll("circle").data(p.pts).join("circle")
    .attr("cx", d => x(d[0])).attr("cy", d => y(d[1])).attr("r", 2.4).attr("fill", "#000");

  plot.append("path")
    .datum(p.fit)
    .attr("d", d3.line().x(d => x(d[0])).y(d => y(d[1])))
    .attr("stroke", "#ff0000").attr("stroke-width", 2.2).attr("fill", "none");

  // panel border
  g.append("rect")
    .attr("x", p.left).attr("y", p.top)
    .attr("width", p.right - p.left).attr("height", p.bottom - p.top)
    .attr("fill", "none").attr("stroke", "#a8a8a8").attr("stroke-width", 1.4);

  // axes
  const xa = g.append("g").attr("transform", `translate(0,${p.bottom})`)
    .call(d3.axisBottom(x).tickValues(p.xTicks).tickSize(4).tickPadding(2).tickFormat(d3.format("d")));
  const ya = g.append("g").attr("transform", `translate(${p.left},0)`)
    .call(d3.axisLeft(y).tickValues(p.yTicks).tickSize(4).tickPadding(2).tickFormat(d => d < 0 ? "-" + Math.abs(d) : d));
  [xa, ya].forEach(a => {
    a.select(".domain").remove();
    a.selectAll(".tick line").attr("stroke", "#777");
    a.selectAll(".tick text").attr("fill", "#6e6e6e").style("font-size", "14px")
      .style("font-family", "'Liberation Sans', Arial, sans-serif");
  });

  // titles
  g.append("text")
    .attr("x", (p.left + p.right) / 2 - 1).attr("y", p.bottom + 36)
    .attr("text-anchor", "middle").attr("fill", "#111").style("font-size", "18px")
    .text(p.xTitle);
  g.append("text")
    .attr("transform", `translate(80,${(p.top + p.bottom) / 2}) rotate(-90)`)
    .attr("text-anchor", "middle").attr("fill", "#111").style("font-size", "18px")
    .text(p.yTitle);

  g.append("text")
    .attr("x", 13).attr("y", p.letterY)
    .attr("font-weight", "bold").style("font-size", "27px").attr("fill", "#000")
    .text(p.letter);
}

panels.forEach(drawPanel);
</script>
</body>
</html>
